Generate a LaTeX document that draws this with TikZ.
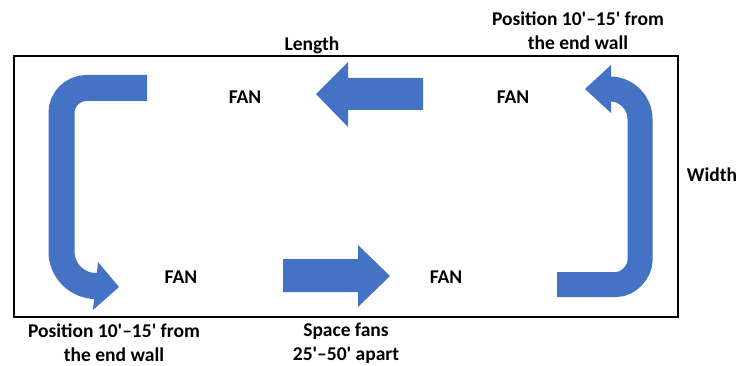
\documentclass[tikz,border=0pt]{standalone}
\usepackage{fontspec}
\newfontfamily\lblfont{Carlito}
\begin{document}
\begin{tikzpicture}[x=1pt,y=-1pt,
  lbl/.style={font=\lblfont\fontsize{19.5}{24}\selectfont\bfseries, align=center, inner sep=0pt},
  shaft/.style={draw=arrowblue, line width=26pt},
  headfill/.style={fill=arrowblue, draw=none}]
\definecolor{arrowblue}{HTML}{4472C4}
\useasboundingbox (0,0) rectangle (746,366);
% room outline
\draw[line width=1.5pt] (14,56) rectangle (678,317);
% left hook arrow
\draw[shaft] (147,88) -- (86.5,88) .. controls (72.7,88) and (61.5,99.2) .. (61.5,113)
  -- (61.5,251.5) .. controls (61.5,270.55) and (76.95,286) .. (96,286) -- (97,286);
\fill[headfill] (98,262) -- (119,287) -- (93,310) -- cycle;
% top straight arrow (pointing left)
\fill[headfill] (423,78) -- (348,78) -- (348,62) -- (316,94) -- (348,127) -- (348,110) -- (423,110) -- cycle;
% bottom straight arrow (pointing right)
\fill[headfill] (283,259) -- (358,259) -- (358,245) -- (390,276) -- (358,307) -- (358,292) -- (283,292) -- cycle;
% right hook arrow
\draw[shaft, line width=25pt] (557,284.5) -- (616,284.5) .. controls (629.25,284.5) and (640,271.25) .. (640,260.5)
  -- (640,119) .. controls (640,102.4) and (626.6,89) .. (610,89) -- (609.5,89);
\fill[headfill] (611,65) -- (585,89) -- (611,113) -- cycle;
% labels
\node[lbl] (fan1) at (245,97) {FAN};
\node[lbl] (fan2) at (513,97) {FAN};
\node[lbl] (fan3) at (181,277) {FAN};
\node[lbl] (fan4) at (446,277) {FAN};
\node[lbl] (length) at (312,45) {Length};
\node[lbl] (width) at (712,175) {Width};
\node[lbl] (posTR) at (578,31) {Position 10'–15' from\\the end wall};
\node[lbl] (posBL) at (114,343) {Position 10'–15' from\\the end wall};
\node[lbl] (space) at (346,343) {Space fans\\25'–50' apart};
\end{tikzpicture}
\end{document}
